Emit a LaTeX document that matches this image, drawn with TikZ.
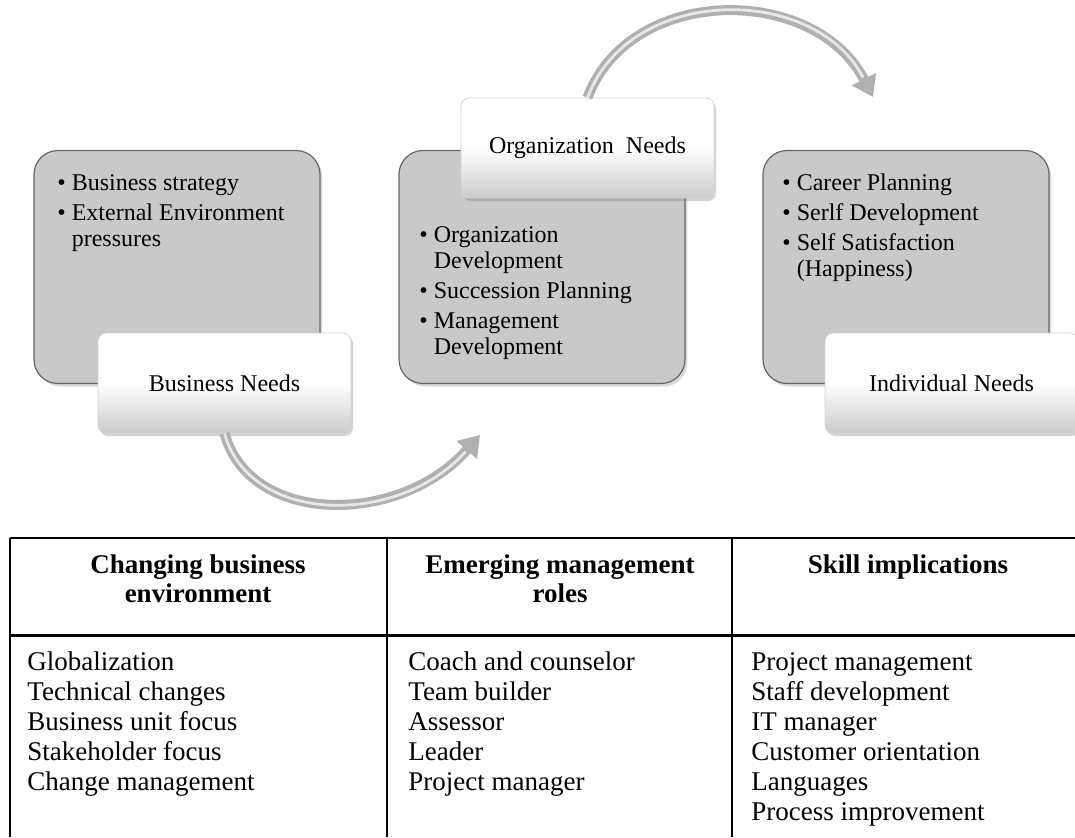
\documentclass[tikz,border=0pt]{standalone}
\usepackage{fontspec}
\setmainfont{Liberation Serif}
\usetikzlibrary{arrows.meta,shadows}

\begin{document}
\begin{tikzpicture}[x=0.5pt,y=-0.5pt,
    needs/.style={draw=gray!80!black, line width=0.6pt, fill=gray!42, rounded corners=12pt,
        minimum width=143pt, minimum height=116.5pt,
        drop shadow={opacity=0.3, shadow xshift=1.2pt, shadow yshift=-1.5pt}},
    tag/.style={draw=gray!35, line width=0.4pt, top color=white, bottom color=gray!40, middle color=white,
        rounded corners=4pt, minimum width=126.5pt, minimum height=50pt,
        font=\fontsize{12}{14}\selectfont,
        drop shadow={opacity=0.35, shadow xshift=1pt, shadow yshift=-1.5pt}},
    list/.style={anchor=base west, inner sep=0pt, font=\fontsize{12}{13}\selectfont},
    flow/.style={line width=5pt, gray!62, -{Triangle[length=10pt,width=13pt]}},
    shine/.style={line width=1.4pt, gray!18, shorten >=11pt},
    head/.style={anchor=base, inner sep=0pt, align=center, font=\fontsize{13.5}{14.5}\selectfont\bfseries},
    body/.style={anchor=base west, inner sep=0pt, font=\fontsize{13.5}{15}\selectfont},
    rule/.style={line width=1pt}]
\useasboundingbox (0,0) rectangle (1075,837);

% the three needs
\node[needs] (biz) at (177,267) {};
\node[needs] (org) at (542,267) {};
\node[needs] (ind) at (906,267) {};

\node[list] (bizlist) at (57,190) {\begin{tabular}[t]{@{}l@{\hspace{3pt}}l@{}}
    \textbullet & Business strategy\\[2pt]
    \textbullet & External Environment\\
    & pressures
\end{tabular}};
\node[list] (orglist) at (419,242) {\begin{tabular}[t]{@{}l@{\hspace{3pt}}l@{}}
    \textbullet & Organization\\
    & Development\\[2pt]
    \textbullet & Succession Planning\\[2pt]
    \textbullet & Management\\
    & Development
\end{tabular}};
\node[list] (indlist) at (782,190) {\begin{tabular}[t]{@{}l@{\hspace{3pt}}l@{}}
    \textbullet & Career Planning\\[2pt]
    \textbullet & Serlf Development\\[2pt]
    \textbullet & Self Satisfaction\\
    & (Happiness)
\end{tabular}};

\node[tag] (bn) at (224.5,383) {Business Needs};
\node[tag] (on) at (587.5,148) {Organization\ \ Needs};
\node[tag] (in) at (951.5,383) {Individual Needs};

% curved arrows
\coordinate (tipa) at (480,435);
\coordinate (tipb) at (873,97);
\draw[flow] (bn.south) .. controls (250,526) and (400,526) .. (tipa);
\draw[shine] (bn.south) .. controls (250,526) and (400,526) .. (tipa);
\draw[flow] (on.north) .. controls (630,-16) and (815,-16) .. (tipb);
\draw[shine] (on.north) .. controls (630,-16) and (815,-16) .. (tipb);

% table
\draw[rule] (10,538) -- (1075,538);
\draw[line width=1.5pt] (10,635) -- (1075,635);
\foreach \x in {10,387,732}
{
    \draw[rule] (\x,538) -- (\x,837);
}

\node[head] (h1) at (198,602) {Changing business\\environment};
\node[head] (h2) at (560,602) {Emerging management\\roles};
\node[head] (h3) at (908,573) {Skill implications};

\foreach \t [count=\i] in {Globalization,Technical changes,Business unit focus,Stakeholder focus,Change management}
{
    \node[body] (c1-\i) at (27,640+30*\i) {\t};
}
\foreach \t [count=\i] in {Coach and counselor,Team builder,Assessor,Leader,Project manager}
{
    \node[body] (c2-\i) at (408,640+30*\i) {\t};
}
\foreach \t [count=\i] in {Project management,Staff development,IT manager,Customer orientation,Languages,Process improvement}
{
    \node[body] (c3-\i) at (751,640+30*\i) {\t};
}
\end{tikzpicture}
\end{document}
